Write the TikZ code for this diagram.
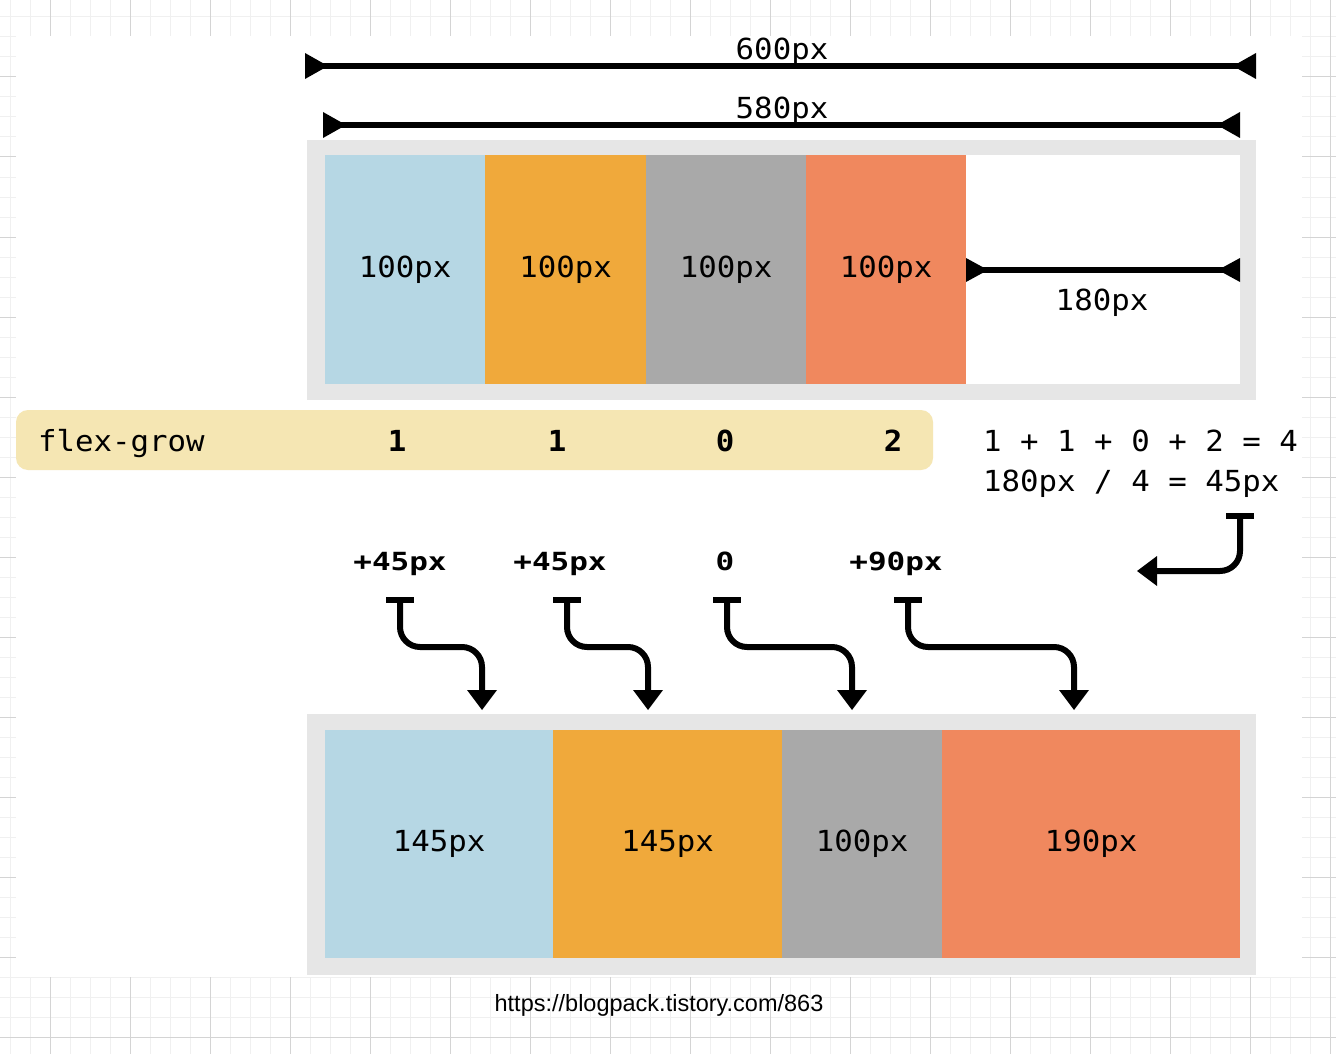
\documentclass[tikz,border=0pt]{standalone}
\usepackage{fontspec}
\setmainfont{Liberation Sans}
\newfontfamily\monof[FakeStretch=1.06]{DejaVu Sans Mono}
\newfontfamily\monob[FakeStretch=1.24]{DejaVu Sans Mono}
\usetikzlibrary{arrows.meta}
\definecolor{cblue}{HTML}{B6D7E4}
\definecolor{corange}{HTML}{F0A93B}
\definecolor{cgrey}{HTML}{A9A9A9}
\definecolor{csalmon}{HTML}{F0885E}
\definecolor{cframe}{HTML}{E6E6E6}
\definecolor{cflex}{HTML}{F5E6B3}
\definecolor{gridminor}{HTML}{F0F0F0}
\definecolor{gridmajor}{HTML}{D4D4D4}
\tikzset{
  x=1pt, y=-1pt,
  mono/.style={font=\monof\fontsize{29}{29}\selectfont, inner sep=0pt, text=black},
  bmono/.style={font=\monof\bfseries\fontsize{29}{29}\selectfont, inner sep=0pt, text=black},
  blabel/.style={font=\monob\bfseries\fontsize{25}{25}\selectfont, inner sep=0pt, text=black},
  cell/.style={anchor=north west, inner sep=0pt, minimum height=229pt, font=\monof\fontsize{29}{29}\selectfont},
  frame/.style={fill=cframe},
  dimline/.style={line width=5.5pt},
  dimhead/.style={fill=black},
  flow/.style={line width=6pt, rounded corners=20pt, {Bar[width=28pt]}-{Triangle[length=20pt, width=30pt, line width=0pt]}},
}
\begin{document}
\begin{tikzpicture}
\useasboundingbox (0,0) rectangle (1336,1054);
% background grid
\fill[white] (0,0) rectangle (1336,1054);
\foreach \gx in {10,30,...,1330} \draw[gridminor, line width=1pt] (\gx,0) -- (\gx,1054);
\foreach \gy in {17,37,...,1054} \draw[gridminor, line width=1pt] (0,\gy) -- (1336,\gy);
\foreach \gx in {50,130,...,1330} \draw[gridmajor, line width=1pt] (\gx,0) -- (\gx,1054);
\foreach \gy in {77,157,...,1054} \draw[gridmajor, line width=1pt] (0,\gy) -- (1336,\gy);
\fill[white] (16,36) rectangle (1302,977);

% top container
\fill[frame] (307,140) rectangle (1256,400);
\fill[white] (325,155) rectangle (1240,384);
\node[cell, fill=cblue, minimum width=160pt] (t1) at (325,155) {100px};
\node[cell, fill=corange, minimum width=161pt] (t2) at (485,155) {100px};
\node[cell, fill=cgrey, minimum width=160pt] (t3) at (646,155) {100px};
\node[cell, fill=csalmon, minimum width=160pt] (t4) at (806,155) {100px};

% dimension lines
\coordinate (a600) at (305,66);
\coordinate (b600) at (1256,66);
\draw[dimline] (a600) -- (b600);
\fill[dimhead] (a600) ++(0,-13) -- ++(23,13) -- ++(-23,13) -- cycle;
\fill[dimhead] (b600) ++(0,-13) -- ++(-23,13) -- ++(23,13) -- cycle;
\node[mono, anchor=base] (l600) at (782,60) {600px};
\coordinate (a580) at (323,125);
\coordinate (b580) at (1240,125);
\draw[dimline] (a580) -- (b580);
\fill[dimhead] (a580) ++(0,-13) -- ++(23,13) -- ++(-23,13) -- cycle;
\fill[dimhead] (b580) ++(0,-13) -- ++(-23,13) -- ++(23,13) -- cycle;
\node[mono, anchor=base] (l580) at (782,119) {580px};
\coordinate (a180) at (966,270);
\coordinate (b180) at (1240,270);
\draw[dimline] (a180) -- (b180);
\fill[dimhead] (a180) ++(0,-12) -- ++(22,12) -- ++(-22,12) -- cycle;
\fill[dimhead] (b180) ++(0,-12) -- ++(-22,12) -- ++(22,12) -- cycle;
\node[mono, anchor=base] (l180) at (1102,310) {180px};

% flex-grow row
\fill[cflex, rounded corners=12pt] (16,410) rectangle (933,470);
\node[mono, anchor=base west] (fg) at (38,451) {flex-grow};
\node[bmono, anchor=base] (g1) at (397,451) {1};
\node[bmono, anchor=base] (g2) at (557,451) {1};
\node[bmono, anchor=base] (g3) at (725,451) {0};
\node[bmono, anchor=base] (g4) at (893,451) {2};

% calculation
\node[mono, anchor=base west] (calc1) at (983,451) {1 + 1 + 0 + 2 = 4};
\node[mono, anchor=base west] (calc2) at (983,491) {180px / 4 = 45px};
\coordinate (rs) at (1240,513);
\coordinate (re) at (1137,571);
\draw[flow] (rs) |- (re);

% increments
\node[blabel, anchor=base] (p1) at (400,570) {+45px};
\node[blabel, anchor=base] (p2) at (560,570) {+45px};
\node[blabel, anchor=base] (p3) at (725,570) {0};
\node[blabel, anchor=base] (p4) at (896,570) {+90px};

\coordinate (s1) at (400,597); \coordinate (e1) at (482,710);
\coordinate (s2) at (567,597); \coordinate (e2) at (648,710);
\coordinate (s3) at (727,597); \coordinate (e3) at (852,710);
\coordinate (s4) at (908,597); \coordinate (e4) at (1074,710);
\draw[flow] (s1) -- (400,647) -- (482,647) -- (e1);
\draw[flow] (s2) -- (567,647) -- (648,647) -- (e2);
\draw[flow] (s3) -- (727,647) -- (852,647) -- (e3);
\draw[flow] (s4) -- (908,647) -- (1074,647) -- (e4);

% bottom container
\fill[frame] (307,714) rectangle (1256,975);
\node[cell, fill=cblue, minimum width=228pt, minimum height=228pt] (u1) at (325,730) {145px};
\node[cell, fill=corange, minimum width=229pt, minimum height=228pt] (u2) at (553,730) {145px};
\node[cell, fill=cgrey, minimum width=160pt, minimum height=228pt] (u3) at (782,730) {100px};
\node[cell, fill=csalmon, minimum width=298pt, minimum height=228pt] (u4) at (942,730) {190px};

% source
\node[font=\fontsize{23.5}{23.5}\selectfont, inner sep=0pt, anchor=base] (src) at (659,1011) {https://blogpack.tistory.com/863};
\end{tikzpicture}
\end{document}
